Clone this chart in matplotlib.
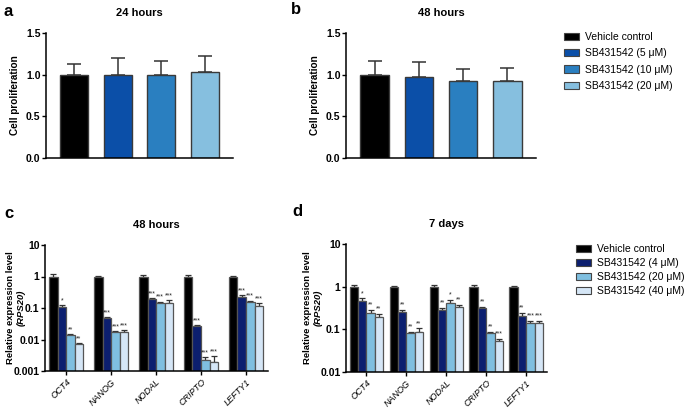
import numpy as np
import matplotlib
matplotlib.use("Agg")
import matplotlib.pyplot as plt
from matplotlib.patches import Patch

plt.rcParams['font.family'] = ['Liberation Sans', 'DejaVu Sans']

W, H = 685, 409

# panels a / b: cell proliferation
prolif_labels = ['Vehicle control', 'SB431542 (5 \u03bcM)',
                 'SB431542 (10 \u03bcM)', 'SB431542 (20 \u03bcM)']
prolif_colors = ['#000000', '#0b4fa8', '#2a7fc0', '#86bfdf']
prolif_24h = [1.00, 0.995, 1.00, 1.03]
prolif_24h_err = [0.13, 0.20, 0.17, 0.19]
prolif_48h = [1.00, 0.97, 0.93, 0.92]
prolif_48h_err = [0.16, 0.18, 0.14, 0.16]

# panels c / d: relative expression
genes = ['OCT4', 'NANOG', 'NODAL', 'CRIPTO', 'LEFTY1']
expr_colors = ['#000000', '#0c1f6f', '#7fbfe0', '#d5e6f6']
expr_labels_d = ['Vehicle control', 'SB431542 (4 \u03bcM)',
                 'SB431542 (20 \u03bcM)', 'SB431542 (40 \u03bcM)']

# rows: treatment, cols: gene
expr_48h = [[1.00, 1.00, 1.00, 1.00, 1.00],
            [0.11, 0.047, 0.19, 0.026, 0.22],
            [0.0135, 0.017, 0.14, 0.0023, 0.16],
            [0.0072, 0.017, 0.145, 0.0019, 0.12]]
expr_48h_top = [[1.2, 1.02, 1.08, 1.12, 1.02],
                [0.125, 0.052, 0.205, 0.028, 0.25],
                [0.015, 0.0185, 0.16, 0.0027, 0.17],
                [0.0075, 0.02, 0.175, 0.0029, 0.14]]
stars_48h = [['*', '***', '***', '***', '***'],
             ['**', '***', '***', '***', '***'],
             ['**', '***', '***', '***', '***']]

expr_7d = [[1.00, 1.00, 1.00, 1.00, 1.00],
           [0.47, 0.25, 0.29, 0.32, 0.21],
           [0.24, 0.081, 0.41, 0.08, 0.138],
           [0.19, 0.086, 0.33, 0.053, 0.14]]
expr_7d_top = [[1.12, 1.06, 1.1, 1.1, 1.06],
               [0.53, 0.28, 0.32, 0.335, 0.24],
               [0.29, 0.086, 0.48, 0.086, 0.16],
               [0.235, 0.105, 0.38, 0.059, 0.16]]
stars_7d = [['*', '**', '**', '**', '**'],
            ['**', '**', '*', '**', '***'],
            ['**', '**', '**', '***', '***']]


def px_axes(fig, x0, y0, x1, y1):
    return fig.add_axes([x0 / W, 1 - y1 / H, (x1 - x0) / W, (y1 - y0) / H])


def style_axes(ax):
    for s in ['top', 'right']:
        ax.spines[s].set_visible(False)
    for s in ['left', 'bottom']:
        ax.spines[s].set_linewidth(1.1)
    for lab in ax.get_yticklabels():
        lab.set_fontweight('bold')


def prolif_panel(ax, vals, errs, title):
    x = np.arange(len(vals))
    ax.bar(x, vals, width=0.65, color=prolif_colors, edgecolor='#3a3a3a',
           linewidth=1.0, zorder=2)
    ax.errorbar(x, vals, yerr=[np.zeros(len(vals)), errs], fmt='none',
                ecolor='#333333', elinewidth=1.1, capsize=5, capthick=1.1,
                zorder=1)
    ax.set_xlim(-0.65, 3.65)
    ax.set_ylim(0, 1.5)
    ax.set_yticks([0, 0.5, 1.0, 1.5])
    ax.set_yticklabels(['0.0', '0.5', '1.0', '1.5'])
    ax.set_xticks([])
    ax.tick_params(axis='y', labelsize=7.5, length=3, width=1, pad=1)
    ax.set_ylabel('Cell proliferation', fontsize=7.2, fontweight='bold',
                  labelpad=4)
    ax.set_title(title, fontsize=8, fontweight='bold', pad=12)
    style_axes(ax)


def expr_panel(ax, vals, tops, stars, title, ylim, yticks, yticklabels, width):
    x = np.arange(len(genes))
    for i in range(4):
        pos = x + (i - 1.5) * width
        v = np.array(vals[i])
        t = np.array(tops[i])
        ax.bar(pos, v, width=width, color=expr_colors[i], edgecolor='#555555',
               linewidth=0.9, zorder=2)
        ax.errorbar(pos, v, yerr=[np.zeros(len(v)), t - v], fmt='none',
                    ecolor='#333333', elinewidth=0.9, capsize=2, capthick=0.9,
                    zorder=1)
        if i > 0:
            for j in range(len(genes)):
                ax.text(pos[j], t[j] * 1.08, stars[i - 1][j], fontsize=5,
                        ha='center', va='bottom', color='#222222')
    ax.set_yscale('log')
    ax.set_ylim(*ylim)
    ax.set_xlim(-0.5, len(genes) - 0.5)
    ax.set_yticks(yticks)
    ax.set_yticklabels(yticklabels)
    ax.minorticks_off()
    ax.set_xticks(x)
    ax.set_xticklabels(genes, rotation=45, ha='right', rotation_mode='anchor',
                       fontstyle='italic', fontsize=6.5)
    ax.tick_params(axis='y', labelsize=7.5, length=3, width=1, pad=1)
    ax.tick_params(axis='x', length=3, width=1, pad=1.5)
    ax.set_title(title, fontsize=8, fontweight='bold', pad=12)
    style_axes(ax)


fig = plt.figure(figsize=(W / 100, H / 100), dpi=100)

ax_a = px_axes(fig, 46, 33, 233, 158)
prolif_panel(ax_a, prolif_24h, prolif_24h_err, '24 hours')
ax_b = px_axes(fig, 346, 33, 536, 158)
prolif_panel(ax_b, prolif_48h, prolif_48h_err, '48 hours')

ax_c = px_axes(fig, 45, 245, 268, 371)
expr_panel(ax_c, expr_48h, expr_48h_top, stars_48h, '48 hours',
           (0.001, 10), [0.001, 0.01, 0.1, 1, 10],
           ['0.001', '0.01', '0.1', '1', '10'], 0.19)
ax_c.set_xlim(-0.47, 4.49)

ax_d = px_axes(fig, 346, 244, 547, 372)
expr_panel(ax_d, expr_7d, expr_7d_top, stars_7d, '7 days',
           (0.01, 10), [0.01, 0.1, 1, 10],
           ['0.01', '0.1', '1', '10'], 0.21)
ax_d.set_xlim(-0.51, 4.52)

# two-line y labels, placed by pixel
for ax, x1, x2 in [(ax_c, 11, 21), (ax_d, 308, 318)]:
    fig.text(x1 / W, 1 - 308 / H, 'Relative expression level', rotation=90,
             ha='center', va='center', fontsize=6.8, fontweight='bold')
    fig.text(x2 / W, 1 - 308 / H, '(RPS20)', rotation=90,
             ha='center', va='center', fontsize=6.8, fontweight='bold',
             fontstyle='italic')

# panel letters
for lab, x, y in [('a', 3, 12), ('b', 291, 10), ('c', 4, 214), ('d', 292, 212)]:
    fig.text(x / W, 1 - y / H, lab, fontsize=12, fontweight='bold',
             va='center', ha='left')

# legends
fig.legend(handles=[Patch(facecolor=c, edgecolor='#444444', linewidth=0.8)
                    for c in prolif_colors],
           labels=prolif_labels, loc='upper left',
           bbox_to_anchor=(560 / W, 1 - 28 / H), frameon=False, fontsize=7.5,
           handlelength=1.4, handleheight=0.7, handletextpad=0.6,
           labelspacing=0.6, borderaxespad=0)
fig.legend(handles=[Patch(facecolor=c, edgecolor='#444444', linewidth=0.8)
                    for c in expr_colors],
           labels=expr_labels_d, loc='upper left',
           bbox_to_anchor=(572 / W, 1 - 240 / H), frameon=False, fontsize=7.5,
           handlelength=1.4, handleheight=0.7, handletextpad=0.6,
           labelspacing=0.38, borderaxespad=0)

fig.savefig('out.png', dpi=100)
